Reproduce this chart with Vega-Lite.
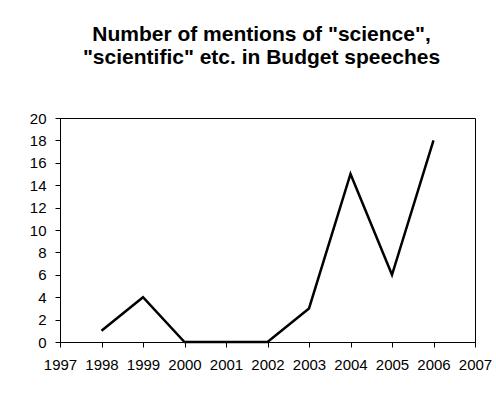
{
  "$schema": "https://vega.github.io/schema/vega-lite/v6.json",
  "width": 415,
  "height": 224,
  "autosize": "none",
  "padding": {"left": 60, "top": 118, "right": 21, "bottom": 72},
  "background": "white",
  "title": {
    "text": ["Number of mentions of \"science\",", "\"scientific\" etc. in Budget speeches"],
    "font": "Liberation Sans",
    "fontSize": 21,
    "fontWeight": "bold",
    "color": "black",
    "anchor": "middle",
    "baseline": "alphabetic",
    "lineHeight": 23,
    "offset": 26,
    "dx": -6
  },
  "data": {
    "values": [
      {"year": 1998, "count": 1},
      {"year": 1999, "count": 4},
      {"year": 2000, "count": 0},
      {"year": 2001, "count": 0},
      {"year": 2002, "count": 0},
      {"year": 2003, "count": 3},
      {"year": 2004, "count": 15},
      {"year": 2005, "count": 6},
      {"year": 2006, "count": 18}
    ]
  },
  "mark": {"type": "line", "color": "black", "strokeWidth": 2.5, "clip": false},
  "encoding": {
    "x": {
      "field": "year",
      "type": "quantitative",
      "scale": {"domain": [1997, 2007], "nice": false, "zero": false},
      "axis": {
        "title": null,
        "values": [1997, 1998, 1999, 2000, 2001, 2002, 2003, 2004, 2005, 2006, 2007],
        "format": "d",
        "grid": false,
        "tickSize": 5,
        "labelPadding": 10,
        "labelFlush": false,
        "labelOverlap": false
      }
    },
    "y": {
      "field": "count",
      "type": "quantitative",
      "scale": {"domain": [0, 20], "nice": false},
      "axis": {
        "title": null,
        "values": [0, 2, 4, 6, 8, 10, 12, 14, 16, 18, 20],
        "grid": false,
        "tickSize": 5,
        "labelPadding": 9,
        "labelFlush": false
      }
    }
  },
  "config": {
    "view": {"stroke": "black", "strokeWidth": 1},
    "axis": {
      "domainColor": "black",
      "tickColor": "black",
      "labelColor": "black",
      "labelFont": "Liberation Sans",
      "labelFontSize": 15,
      "domainWidth": 1,
      "tickWidth": 1
    }
  }
}
